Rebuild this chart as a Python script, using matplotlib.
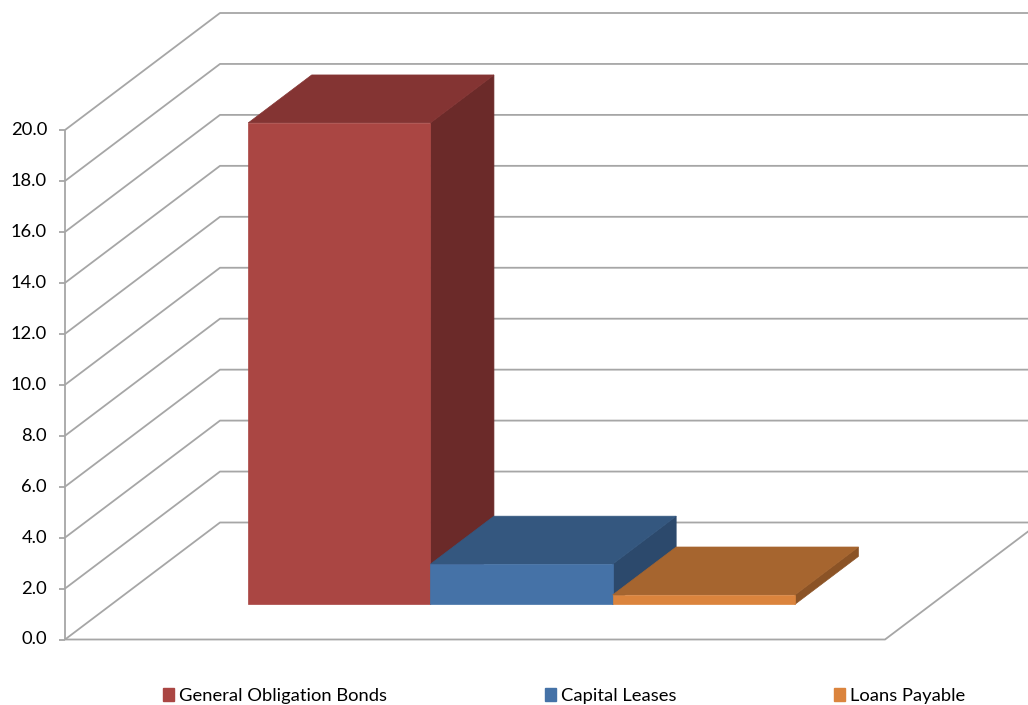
import matplotlib.pyplot as plt
from matplotlib.patches import Polygon, Patch

# data
series = ['General Obligation Bonds', 'Capital Leases', 'Loans Payable']
values = [18.9, 1.58, 0.37]
front_colors = ['#AA4643', '#4572A7', '#DB843D']
top_colors = ['#843433', '#34577F', '#A6652F']
side_colors = ['#6B2A29', '#2C496C', '#8B5326']
yticks = [0, 2, 4, 6, 8, 10, 12, 14, 16, 18, 20]
ytick_labels = ['%.1f' % v for v in yticks]

plt.rcParams['font.family'] = ['Lato', 'DejaVu Sans']
FS = 13.2

W, H = 1028, 705
fig = plt.figure(figsize=(W / 100, H / 100), dpi=100)
ax = fig.add_axes([0, 0, 1, 1])

# front plane: category span 0..1, value axis 0..20
PX_X = 820.0      # px per category unit
PX_V = 25.475     # px per value unit
ORIG = (65, 639.5)
ax.set_xlim(-ORIG[0] / PX_X, (W - ORIG[0]) / PX_X)
ax.set_ylim((ORIG[1] - H) / PX_V, ORIG[1] / PX_V)
ax.axis('off')

# depth offset (full depth) in data units
DX = 155 / PX_X
DV = 117 / PX_V


def proj(x, v, t):
    return (x + t * DX, v + t * DV)


grid_kw = dict(color='#A6A6A6', lw=1.3, zorder=1, solid_capstyle='butt')

# walls / gridlines
vmax = yticks[-1]
for v, lab in zip(yticks, ytick_labels):
    p0 = proj(0, v, 0)
    p1 = proj(0, v, 1)
    p2 = proj(1, v, 1)
    ax.plot([p0[0], p1[0], p2[0]], [p0[1], p1[1], p2[1]], **grid_kw)
    ax.plot([p0[0] - 6 / PX_X, p0[0]], [v, v], **grid_kw)
    ax.text(p0[0] - 18 / PX_X, v, lab,
            ha='right', va='center', fontsize=FS, color='#000000')

ax.plot([0, 0], [0, vmax], **grid_kw)
f0, f1, f2 = proj(0, 0, 0), proj(1, 0, 0), proj(1, 0, 1)
ax.plot([f0[0], f1[0], f2[0]], [f0[1], f1[1], f2[1]], **grid_kw)

# bars: three series side by side in one category
n = len(series)
bw = 1.0 / (n + 1.5)
gap = 0.75 * bw
t0, t1 = 0.3, 0.71
for i, (val, fc, tc, sc) in enumerate(zip(values, front_colors, top_colors, side_colors)):
    xl = gap + i * bw
    xr = xl + bw
    front = [proj(xl, 0, t0), proj(xr, 0, t0), proj(xr, val, t0), proj(xl, val, t0)]
    top = [proj(xl, val, t0), proj(xr, val, t0), proj(xr, val, t1), proj(xl, val, t1)]
    side = [proj(xr, 0, t0), proj(xr, 0, t1), proj(xr, val, t1), proj(xr, val, t0)]
    z = 3 + i
    ax.add_patch(Polygon(side, closed=True, fc=sc, ec=sc, lw=0.5, zorder=z))
    ax.add_patch(Polygon(top, closed=True, fc=tc, ec=tc, lw=0.5, zorder=z))
    ax.add_patch(Polygon(front, closed=True, fc=fc, ec=fc, lw=0.5, zorder=z))

handles = [Patch(fc=c, ec=c) for c in front_colors]
fig.legend(handles, series, loc='center', bbox_to_anchor=(564 / W, 9 / H),
           ncol=3, frameon=False, fontsize=FS, handlelength=0.6,
           handleheight=0.7, handletextpad=0.27, columnspacing=8.6,
           borderpad=0, borderaxespad=0)

fig.savefig('out.png', dpi=100)
